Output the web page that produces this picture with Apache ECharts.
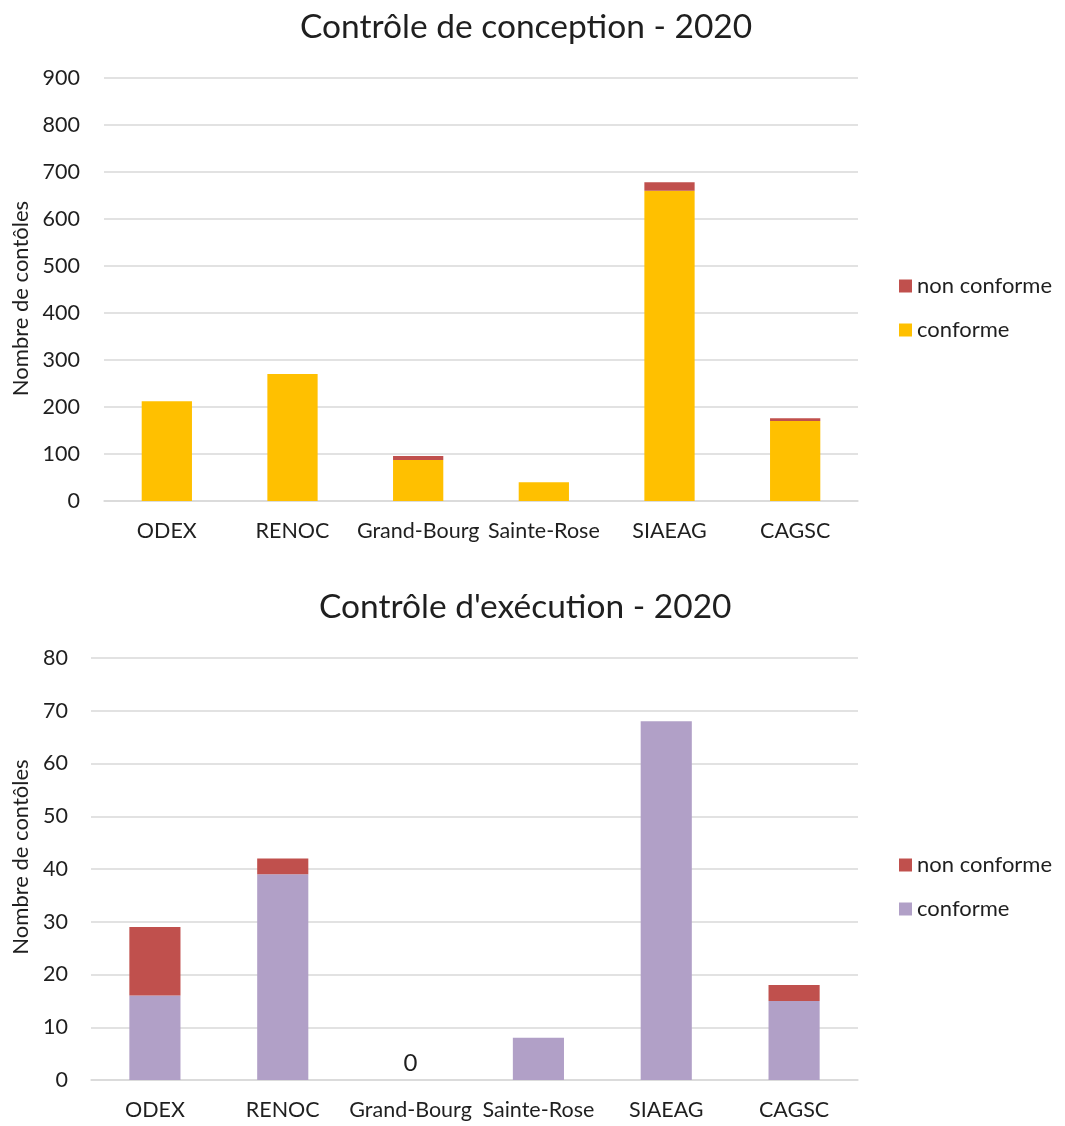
<!DOCTYPE html>
<html>
<head>
<meta charset="utf-8">
<script src="https://cdn.jsdelivr.net/npm/echarts@6/dist/echarts.min.js"></script>
<style>
html,body{margin:0;padding:0;background:#fff;}
#main{width:1065px;height:1126px;}
</style>
</head>
<body>
<div id="main"></div>
<script>
const categories = ['ODEX', 'RENOC', 'Grand-Bourg', 'Sainte-Rose', 'SIAEAG', 'CAGSC'];
const conceptionConforme = [212, 270, 87, 40, 660, 170];
const conceptionNonConforme = [0, 0, 9, 0, 18, 6];
const executionConforme = [16, 39, 0, 8, 68, 15];
const executionNonConforme = [13, 3, 0, 0, 0, 3];
const title1 = 'Contrôle de conception - 2020';
const title2 = "Contrôle d'exécution - 2020";
const yName = 'Nombre de contôles';
const legendLabels = { nc1: 'non conforme', c1: 'conforme', nc2: 'non conforme', c2: 'conforme' };

const FONT = 'Lato';
const TXT = '#1f1f1f';
const GRID = '#d9d9d9';

function execConformeData() {
  return executionConforme.map((v, i) =>
    (v === 0 && executionNonConforme[i] === 0)
      ? { value: v, label: { show: true, position: 'top', distance: 5, formatter: '{c}', color: TXT, fontSize: 24, fontFamily: FONT } }
      : v);
}

const chart = echarts.init(document.getElementById('main'), null, { renderer: 'canvas' });
const axisLabel = { color: TXT, fontSize: 21.5, fontFamily: FONT };
const legendText = { color: TXT, fontSize: 22, fontFamily: FONT };
const titleText = { fontSize: 33.5, fontWeight: 'normal', color: TXT, fontFamily: FONT };
chart.setOption({
  backgroundColor: '#fff',
  animation: false,
  title: [
    { text: title1, left: 295, top: 5, textStyle: titleText },
    { text: title2, left: 314, top: 585, textStyle: titleText }
  ],
  legend: [
    { data: ['nc1', 'c1'], orient: 'vertical', left: 894, top: 270, icon: 'rect', itemWidth: 13, itemHeight: 13, itemGap: 22,
      formatter: n => legendLabels[n], textStyle: legendText },
    { data: ['nc2', 'c2'], orient: 'vertical', left: 894, top: 849, icon: 'rect', itemWidth: 13, itemHeight: 13, itemGap: 22,
      formatter: n => legendLabels[n], textStyle: legendText }
  ],
  grid: [
    { left: 104, right: 1065 - 858, top: 78, height: 423 },
    { left: 91, right: 1065 - 858, top: 658, height: 422 }
  ],
  xAxis: [
    { type: 'category', gridIndex: 0, data: categories, axisTick: { show: false },
      axisLine: { lineStyle: { color: GRID, width: 1.5 } }, axisLabel: Object.assign({ margin: 19, interval: 0 }, axisLabel) },
    { type: 'category', gridIndex: 1, data: categories, axisTick: { show: false },
      axisLine: { lineStyle: { color: GRID, width: 1.5 } }, axisLabel: Object.assign({ margin: 19, interval: 0 }, axisLabel) }
  ],
  yAxis: [
    { type: 'value', gridIndex: 0, min: 0, max: 900, interval: 100,
      name: yName, nameLocation: 'middle', nameGap: 72,
      nameTextStyle: { color: TXT, fontSize: 22, fontFamily: FONT, padding: [0, 18, 0, 0] },
      axisLine: { show: false }, axisTick: { show: false },
      splitLine: { lineStyle: { color: GRID, width: 1.5 } }, axisLabel: Object.assign({ margin: 24 }, axisLabel) },
    { type: 'value', gridIndex: 1, min: 0, max: 80, interval: 10,
      name: yName, nameLocation: 'middle', nameGap: 59,
      nameTextStyle: { color: TXT, fontSize: 22, fontFamily: FONT, padding: [0, 0, 0, 24] },
      axisLine: { show: false }, axisTick: { show: false },
      splitLine: { lineStyle: { color: GRID, width: 1.5 } }, axisLabel: Object.assign({ margin: 23 }, axisLabel) }
  ],
  series: [
    { name: 'c1', type: 'bar', stack: 's1', xAxisIndex: 0, yAxisIndex: 0, barWidth: '40%', itemStyle: { color: '#ffc000' }, data: conceptionConforme },
    { name: 'nc1', type: 'bar', stack: 's1', xAxisIndex: 0, yAxisIndex: 0, barWidth: '40%', itemStyle: { color: '#c0504d' }, data: conceptionNonConforme },
    { name: 'c2', type: 'bar', stack: 's2', xAxisIndex: 1, yAxisIndex: 1, barWidth: '40%', itemStyle: { color: '#b1a0c7' }, data: execConformeData() },
    { name: 'nc2', type: 'bar', stack: 's2', xAxisIndex: 1, yAxisIndex: 1, barWidth: '40%', itemStyle: { color: '#c0504d' }, data: executionNonConforme }
  ]
});
</script>
</body>
</html>
